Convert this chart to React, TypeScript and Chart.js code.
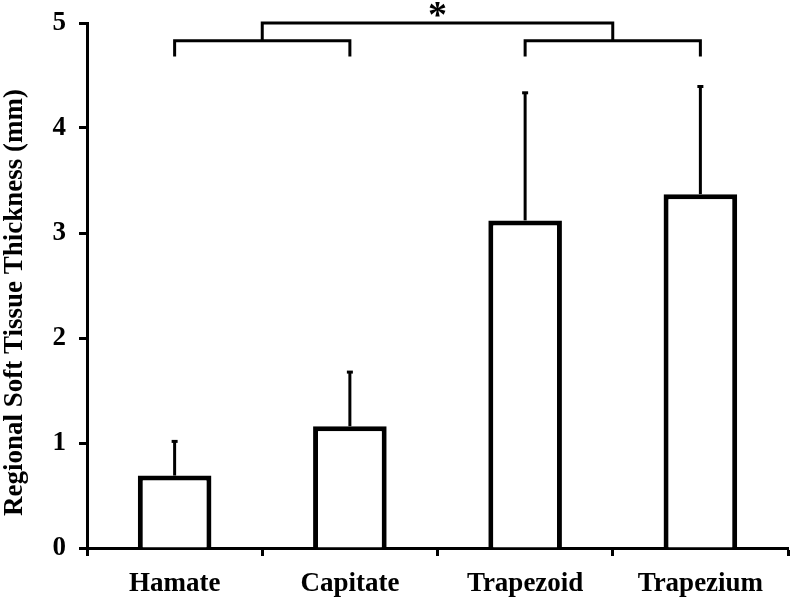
import React, { useEffect, useRef } from "react";
import { Chart, registerables } from "chart.js";

Chart.register(...registerables);

const categories = ["Hamate", "Capitate", "Trapezoid", "Trapezium"];
const means = [0.69, 1.16, 3.12, 3.37];
const errors = [0.33, 0.52, 1.22, 1.03];
const yTicks = [0, 1, 2, 3, 4, 5];
const yTitle = "Regional Soft Tissue Thickness (mm)";
// brackets: [fromIndex, toIndex, barY, legBottomY]
const bracketsLower = [
  [0, 1, 4.83, 4.68],
  [2, 3, 4.83, 4.68],
];
const bracketTop = [0.5, 2.5, 5.0, 4.83];
const starLabel = "*";
const starY = 5.1;

const FONT = "'Liberation Serif', 'Times New Roman', serif";

const annotPlugin = {
  id: "annot",
  afterDatasetsDraw(chart: any) {
    const ctx = chart.ctx;
    const xs = chart.scales.x;
    const ys = chart.scales.y;
    ctx.save();
    ctx.strokeStyle = "#000";
    ctx.fillStyle = "#000";
    ctx.lineCap = "butt";
    // error bars
    means.forEach((m, i) => {
      const x = xs.getPixelForValue(i);
      const y0 = ys.getPixelForValue(m);
      const y1 = ys.getPixelForValue(m + errors[i]);
      ctx.lineWidth = 3;
      ctx.beginPath();
      ctx.moveTo(x, y0);
      ctx.lineTo(x, y1);
      ctx.stroke();
      ctx.fillRect(x - 3, y1 - 1, 6, 3);
    });
    // brackets
    const drawBracket = (b: number[]) => {
      const xa = xs.getPixelForValue(b[0]);
      const xb = xs.getPixelForValue(b[1]);
      const yb = ys.getPixelForValue(b[2]);
      const yl = ys.getPixelForValue(b[3]);
      ctx.lineWidth = 3;
      ctx.lineJoin = "miter";
      ctx.beginPath();
      ctx.moveTo(xa, yl);
      ctx.lineTo(xa, yb);
      ctx.lineTo(xb, yb);
      ctx.lineTo(xb, yl);
      ctx.stroke();
    };
    bracketsLower.forEach(drawBracket);
    drawBracket(bracketTop);
    const sx = (xs.getPixelForValue(bracketTop[0]) + xs.getPixelForValue(bracketTop[1])) / 2;
    const sy = ys.getPixelForValue(starY);
    ctx.font = `bold 38px ${FONT}`;
    ctx.textAlign = "center";
    ctx.textBaseline = "middle";
    ctx.fillText(starLabel, sx, sy + 5);
    // y axis title
    const cy = (ys.top + ys.bottom) / 2 + 17;
    ctx.translate(15, cy);
    ctx.rotate(-Math.PI / 2);
    ctx.font = `bold 27px ${FONT}`;
    ctx.fillText(yTitle, 0, 0);
    ctx.restore();
  },
};

export default function App() {
  const ref = useRef<HTMLCanvasElement>(null);
  useEffect(() => {
    document.body.style.margin = "0";
    const chart = new Chart(ref.current!, {
      type: "bar",
      data: {
        labels: categories,
        datasets: [
          {
            data: means,
            backgroundColor: "#ffffff",
            borderColor: "#000000",
            borderWidth: 5,
            borderSkipped: "bottom",
            barPercentage: 0.42,
            categoryPercentage: 1,
          },
        ],
      },
      options: {
        animation: false,
        responsive: false,
        maintainAspectRatio: false,
        layout: { padding: { top: 23, right: 3, left: 0, bottom: 0 } },
        plugins: { legend: { display: false }, tooltip: { enabled: false } },
        scales: {
          x: {
            offset: true,
            afterFit: (s: any) => {
              s.height = 50;
              s.paddingLeft = 0;
              s.paddingRight = 0;
            },
            grid: {
              offset: true,
              drawOnChartArea: false,
              drawTicks: true,
              tickLength: 8,
              tickWidth: 3,
              tickColor: "#000",
            },
            border: { display: true, color: "#000", width: 3 },
            ticks: {
              color: "#000",
              padding: 12,
              font: { family: FONT, size: 27, weight: "bold" },
            },
          },
          y: {
            min: 0,
            max: 5,
            afterFit: (s: any) => {
              s.width = 87;
              s.paddingTop = 0;
              s.paddingBottom = 0;
            },
            afterBuildTicks: (s: any) => {
              s.ticks = yTicks.map((v) => ({ value: v }));
            },
            grid: {
              drawOnChartArea: false,
              drawTicks: true,
              tickLength: 8,
              tickWidth: 3,
              tickColor: "#000",
            },
            border: { display: true, color: "#000", width: 3 },
            ticks: {
              color: "#000",
              padding: 13,
              font: { family: FONT, size: 27, weight: "bold" },
            },
            title: { display: false },
          },
        },
      },
      plugins: [annotPlugin],
    });
    return () => chart.destroy();
  }, []);
  return (
    <div style={{ position: "fixed", left: 0, top: 0, width: 791, height: 598, background: "#fff" }}>
      <canvas ref={ref} width={791} height={598} style={{ display: "block" }} />
    </div>
  );
}
